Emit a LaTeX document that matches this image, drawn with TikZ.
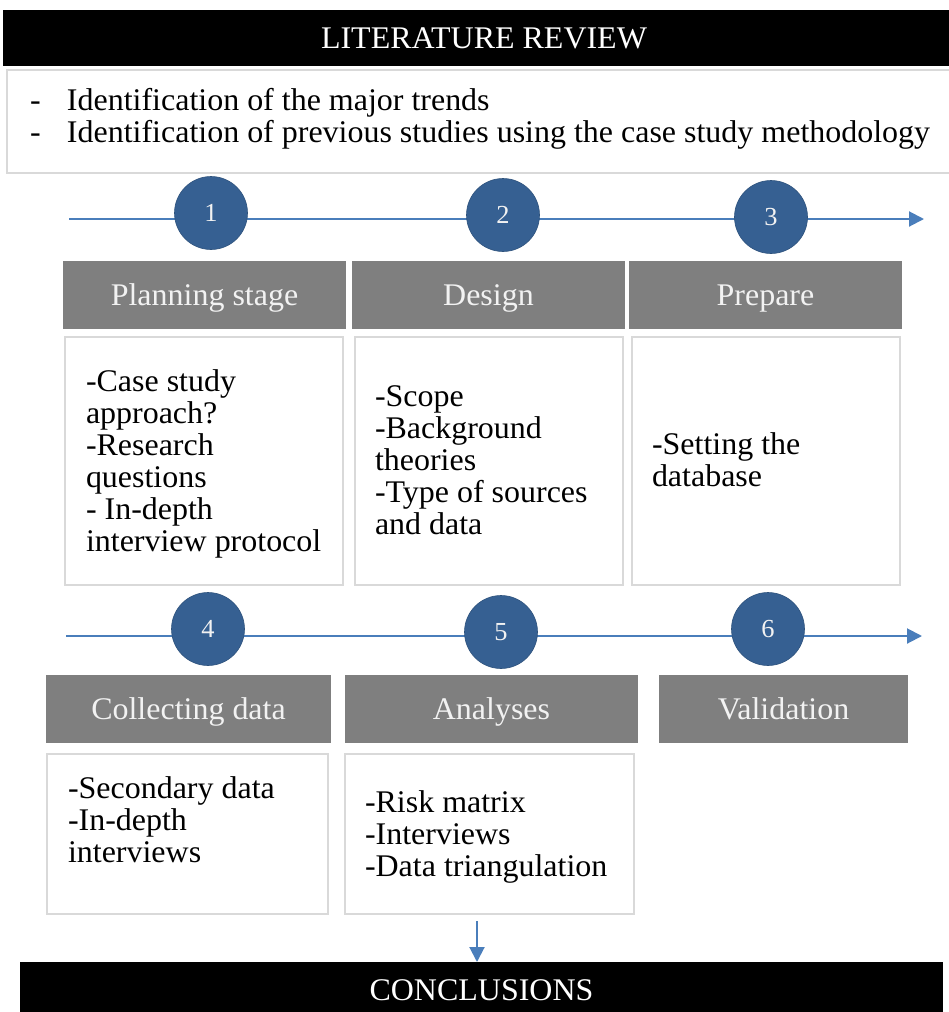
\documentclass[tikz,border=0pt]{standalone}
\usepackage{fontspec}
\setmainfont{Liberation Serif}[FakeStretch=1.015]
\usetikzlibrary{arrows.meta}
\definecolor{stepblue}{RGB}{54,96,146}
\definecolor{flowblue}{RGB}{74,126,187}
\definecolor{headgray}{RGB}{127,127,127}
\definecolor{framegray}{RGB}{217,217,217}
\definecolor{headtext}{RGB}{242,242,242}
\newcommand{\bodyfont}{\fontsize{31.5}{32}\selectfont}
\begin{document}
\begin{tikzpicture}[x=1pt,y=-1pt,
  every node/.style={inner sep=0pt, outer sep=0pt},
  bar/.style={fill=black, text=white, font=\bodyfont, text height=21pt, text depth=0pt},
  head/.style={fill=headgray, text=headtext, font=\bodyfont, text height=21pt, text depth=0pt, minimum height=68pt},
  card/.style={draw=framegray, line width=1.6pt, fill=white},
  body/.style={font=\bodyfont, align=left, anchor=west},
  stepnum/.style={circle, fill=stepblue, draw=stepblue!85!black, line width=0.6pt, minimum size=73pt, text=headtext, font=\fontsize{26}{26}\selectfont},
  flow/.style={draw=flowblue, line width=2pt, -{Triangle[length=15pt,width=15pt]}}
]
\useasboundingbox (0,0) rectangle (949,1012);

% literature review banner and its notes
\node[bar, minimum width=962pt, minimum height=56pt] (litrev) at (484,38) {LITERATURE REVIEW};
\node[card, minimum width=960pt, minimum height=103pt, anchor=north west] (notes) at (7,70) {};
\node[body] (trends) at (30,119) {\makebox[37pt][l]{-}Identification of the major trends\\
  \makebox[37pt][l]{-}Identification of previous studies using the case study methodology};

% first timeline
\coordinate (r1s) at (69,219);
\coordinate (r1e) at (924,219);
\draw[flow] (r1s) -- (r1e);
\node[stepnum] (c1) at (211,213) {1};
\node[stepnum] (c2) at (503,215) {2};
\node[stepnum] (c3) at (771,217) {3};

\node[head, minimum width=283pt] (h1) at (204.5,295) {Planning stage};
\node[head, minimum width=273pt] (h2) at (488.5,295) {Design};
\node[head, minimum width=273pt] (h3) at (765.5,295) {Prepare};

\node[card, minimum width=278pt, minimum height=248pt] (b1) at (204,461) {};
\node[card, minimum width=268pt, minimum height=248pt] (b2) at (489,461) {};
\node[card, minimum width=268pt, minimum height=248pt] (b3) at (766,461) {};

\node[body] (t1) at (86,464) {-Case study\\approach?\\-Research\\questions\\- In-depth\\interview protocol};
\node[body] (t2) at (375,460) {-Scope\\-Background\\theories\\-Type of sources\\and data};
\node[body] (t3) at (652,460) {-Setting the\\database};

% second timeline
\coordinate (r2s) at (66,636);
\coordinate (r2e) at (922,636);
\draw[flow] (r2s) -- (r2e);
\node[stepnum] (c4) at (208,629) {4};
\node[stepnum] (c5) at (501,632) {5};
\node[stepnum] (c6) at (768,629) {6};

\node[head, minimum width=285pt] (h4) at (188.5,709) {Collecting data};
\node[head, minimum width=293pt] (h5) at (491.5,709) {Analyses};
\node[head, minimum width=249pt] (h6) at (783.5,709) {Validation};

\node[card, minimum width=281pt, minimum height=160pt] (b4) at (187.5,834) {};
\node[card, minimum width=289pt, minimum height=160pt] (b5) at (489.5,834) {};

\node[body] (t4) at (68,820) {-Secondary data\\-In-depth\\interviews};
\node[body] (t5) at (365,837) {-Risk matrix\\-Interviews\\-Data triangulation};

% conclusions banner
\node[bar, minimum width=923pt, minimum height=56pt] (concl) at (481.5,990) {CONCLUSIONS};
\coordinate (dn) at (477,921);
\draw[flow] (dn) -- (dn |- concl.north);
\end{tikzpicture}
\end{document}
